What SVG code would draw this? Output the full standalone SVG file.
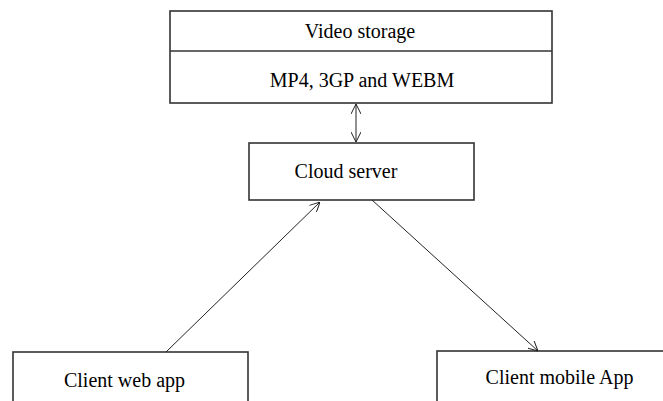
<svg xmlns="http://www.w3.org/2000/svg" width="663" height="401" viewBox="0 0 663 401">
<style>
.box{fill:#fff;stroke:#333;stroke-width:1.6}
.lbl{font-family:"Liberation Serif","Times New Roman",serif;font-size:20px;fill:#000;text-anchor:middle}
.conn{stroke:#222;stroke-width:1;fill:none}
</style>
<defs>
<marker id="ah" viewBox="0 0 10 10" refX="10" refY="5" markerWidth="10" markerHeight="10" markerUnits="userSpaceOnUse" orient="auto-start-reverse">
<path d="M0,0 L10,5 L0,10" fill="none" stroke="#222" stroke-width="1"/>
</marker>
</defs>
<rect width="663" height="401" fill="#fff"/>
<g id="video-storage">
<rect class="box" x="170" y="11" width="382" height="92" stroke-width="2"/>
<line x1="170" y1="51" x2="552" y2="51" stroke="#333" stroke-width="1.6"/>
<text class="lbl" x="360" y="38">Video storage</text>
<text class="lbl" x="362" y="87">MP4, 3GP and WEBM</text>
</g>
<g id="cloud-server">
<rect class="box" x="249" y="143" width="225" height="57"/>
<text class="lbl" x="346" y="178">Cloud server</text>
</g>
<g id="client-web-app">
<rect class="box" x="13" y="352" width="235" height="60"/>
<text class="lbl" x="124.5" y="387">Client web app</text>
</g>
<g id="client-mobile-app">
<rect class="box" x="437" y="351" width="240" height="60"/>
<text class="lbl" x="559.5" y="384">Client mobile App</text>
</g>
<g id="connectors">
<line class="conn" x1="356" y1="104" x2="356" y2="142" marker-start="url(#ah)" marker-end="url(#ah)"/>
<line class="conn" x1="166" y1="352" x2="320" y2="202" marker-end="url(#ah)"/>
<line class="conn" x1="372" y1="200" x2="538" y2="351" marker-end="url(#ah)"/>
</g>
</svg>
